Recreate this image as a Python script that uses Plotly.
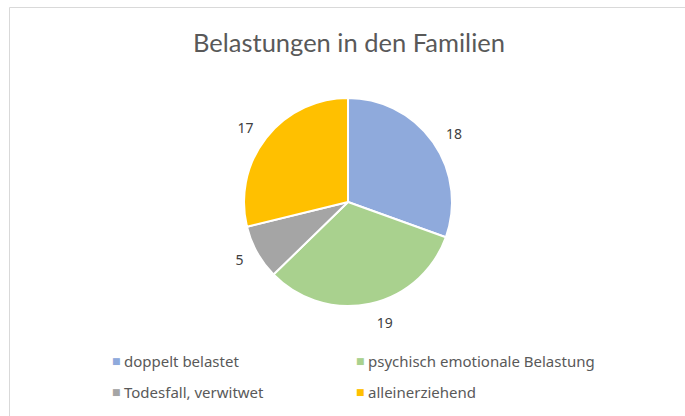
import plotly.graph_objects as go

labels = ["doppelt belastet", "psychisch emotionale Belastung", "Todesfall, verwitwet", "alleinerziehend"]
values = [18, 19, 5, 17]
colors = ["#8FAADC", "#A9D18E", "#A5A5A5", "#FFC000"]
title = "Belastungen in den Familien"

W, H = 685, 416
cx, cy, r = 348, 202, 104
rl = r + 10  # radius used to place the value labels a bit farther out


def dom(rad):
    return dict(x=[(cx - rad) / W, (cx + rad) / W], y=[(H - cy - rad) / H, (H - cy + rad) / H])


fig = go.Figure()
fig.add_trace(go.Pie(
    labels=labels, values=values, sort=False, direction="clockwise", rotation=0,
    marker=dict(colors=colors, line=dict(color="white", width=2)),
    textinfo="none", domain=dom(r), hoverinfo="label+value", showlegend=False,
))
fig.add_trace(go.Pie(
    labels=labels, values=values, sort=False, direction="clockwise", rotation=0,
    marker=dict(colors=["rgba(0,0,0,0)"] * len(values), line=dict(width=0)),
    textinfo="value", textposition="outside",
    textfont=dict(family="Noto Sans", size=14, color="#404040"),
    domain=dom(rl), hoverinfo="skip", showlegend=False,
))

# legend (two columns, two rows)
leg_x = [110, 354]
leg_y = [361, 392]
annotations = []
for i, (lab, col) in enumerate(zip(labels, colors)):
    x0 = leg_x[i % 2]
    y0 = leg_y[i // 2]
    annotations.append(dict(text="■", x=x0 / W, y=1 - y0 / H, xref="paper", yref="paper",
                            xanchor="left", yanchor="middle", showarrow=False,
                            font=dict(family="DejaVu Sans", size=9, color=col)))
    annotations.append(dict(text=lab, x=(x0 + 12) / W, y=1 - y0 / H, xref="paper", yref="paper",
                            xanchor="left", yanchor="middle", showarrow=False,
                            font=dict(family="Noto Sans", size=15, color="#595959")))

fig.update_layout(
    width=W, height=H,
    margin=dict(l=0, r=0, t=0, b=0),
    paper_bgcolor="white",
    title=dict(text=title, x=349 / W, xanchor="center", y=1 - 43 / H, yanchor="middle",
               font=dict(family="Lato", size=25.5, color="#595959")),
    showlegend=False,
    annotations=annotations,
    shapes=[
        dict(type="line", xref="paper", yref="paper", x0=9.5 / W, x1=1, y0=1 - 7.5 / H, y1=1 - 7.5 / H,
             line=dict(color="#D9D9D9", width=1)),
        dict(type="line", xref="paper", yref="paper", x0=9.5 / W, x1=9.5 / W, y0=0, y1=1 - 7.5 / H,
             line=dict(color="#D9D9D9", width=1)),
    ],
)

fig.write_html("out.html", config={"displayModeBar": False},
               post_script="document.body.style.margin='0';")
